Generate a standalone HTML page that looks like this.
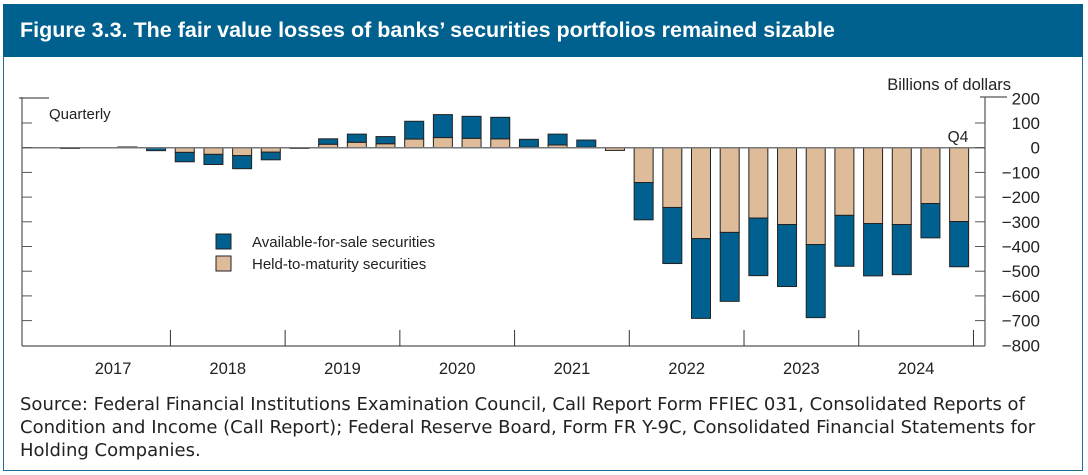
<!DOCTYPE html>
<html><head><meta charset="utf-8"><style>
body{margin:0;width:1088px;height:475px;overflow:hidden;background:#fff;font-family:"Liberation Sans",sans-serif}
#frame{position:absolute;left:3px;top:4px;width:1078px;height:466px;border:1.5px solid #1f6f99;border-top:none}
#hdr{position:absolute;left:3px;top:4px;width:1080px;height:53px;background:#00618f;color:#fff;font-weight:bold;font-size:21.5px;line-height:53px;padding-left:17px;box-sizing:border-box;white-space:nowrap}
#src{position:absolute;left:20px;top:393px;font-family:"DejaVu Sans",sans-serif;font-size:18px;line-height:23px;color:#222;white-space:nowrap}
</style></head><body>
<div id="frame"></div>
<div id="hdr">Figure 3.3. The fair value losses of banks’ securities portfolios remained sizable</div>
<svg id="chart" width="1088" height="475" style="position:absolute;left:0;top:0" font-family="Liberation Sans, sans-serif"></svg>
<div id="src">Source: Federal Financial Institutions Examination Council, Call Report Form FFIEC 031, Consolidated Reports of<br>Condition and Income (Call Report); Federal Reserve Board, Form FR Y-9C, Consolidated Financial Statements for<br>Holding Companies.</div>
<script>
const years=["2017","2018","2019","2020","2021","2022","2023","2024"];
const yTicks=[200,100,0,-100,-200,-300,-400,-500,-600,-700,-800];
const htm=[-2,-1,0,0,-19,-27,-32,-18,-3,14,22,16,35,41,38,36,2,11,2,-11,-141,-242,-368,-343,-285,-311,-392,-274,-307,-311,-226,-299];
const afs=[-1,0,3,-12,-38,-41,-53,-31,0,22,33,29,72,93,89,87,32,44,29,0,-151,-227,-323,-279,-233,-251,-296,-206,-212,-203,-139,-183];
const svg=document.getElementById('chart');const NS='http://www.w3.org/2000/svg';
function mk(t,a,p){const e=document.createElementNS(NS,t);for(const k in a)e.setAttribute(k,a[k]);(p||svg).appendChild(e);return e;}
const y0=147.7,pp=0.247,xl=55.7,qw=28.68;
const Y=v=>y0-v*pp;const X=i=>xl+qw*(i+0.5);
const bw=19;
for(let i=0;i<htm.length;i++){
 const h=htm[i],a=afs[i];
 let r=mk('rect',{x:X(i)-bw/2,y:Math.min(Y(0),Y(h)),width:bw,height:Math.abs(Y(h)-Y(0)),fill:'#dfbc99',stroke:'#222','stroke-width':1});
 
 
 let r2=mk('rect',{x:X(i)-bw/2,y:Math.min(Y(h),Y(h+a)),width:bw,height:Math.abs(Y(h+a)-Y(h)),fill:'#00608f',stroke:'#222','stroke-width':1});
 
 
}
const ax='#555';
mk('line',{x1:22,y1:y0,x2:985,y2:y0,stroke:'#777','stroke-width':1.5});
mk('line',{x1:22,y1:97,x2:22,y2:346,stroke:ax,'stroke-width':1.2});
mk('line',{x1:22,y1:346,x2:985,y2:346,stroke:ax,'stroke-width':1.2});
mk('line',{x1:985,y1:97,x2:985,y2:346,stroke:ax,'stroke-width':1.2});
mk('line',{x1:19,y1:98,x2:49,y2:98,stroke:ax,'stroke-width':1.2});
mk('line',{x1:980,y1:97,x2:1007,y2:97,stroke:ax,'stroke-width':1.2});
yTicks.forEach(v=>{const y=Y(v);
 if(v<200&&v>-800){mk('line',{x1:22,y1:y,x2:32,y2:y,stroke:ax});mk('line',{x1:975,y1:y,x2:985,y2:y,stroke:ax});}
 const t=mk('text',{x:1040,y:y+6,'text-anchor':'end','font-size':17,fill:'#222'});t.textContent=(v<0?'\u2212'+(-v):v);
 
 
});
years.forEach((yr,k)=>{const x=xl+qw*4*k;
 if(k>0)mk('line',{x1:x,y1:330,x2:x,y2:346,stroke:'#333'});
 const t=mk('text',{x:x+qw*2,y:374,'text-anchor':'middle','font-size':16.5,fill:'#222'});t.textContent=yr;
 
 
});
mk('line',{x1:xl+qw*32,y1:330,x2:xl+qw*32,y2:346,stroke:'#333'});
function txt(s,x,y,sz,anc,name){const t=mk('text',{x:x,y:y,'font-size':sz,fill:'#222','text-anchor':anc||'start'});t.textContent=s;}
txt('Billions of dollars',1011,90,16.5,'end','y-axis-unit');
txt('Quarterly',49,119,15,'start','frequency-label');
txt('Q4',958,142,15.5,'middle','last-quarter-label');
mk('rect',{x:216,y:234,width:15,height:15,fill:'#00608f',stroke:'#222'});
mk('rect',{x:216,y:256,width:15,height:15,fill:'#dfbc99',stroke:'#222'});
txt('Available-for-sale securities',252,247,15,'start','legend-afs');
txt('Held-to-maturity securities',252,269,15,'start','legend-htm');
</script>
</body></html>
